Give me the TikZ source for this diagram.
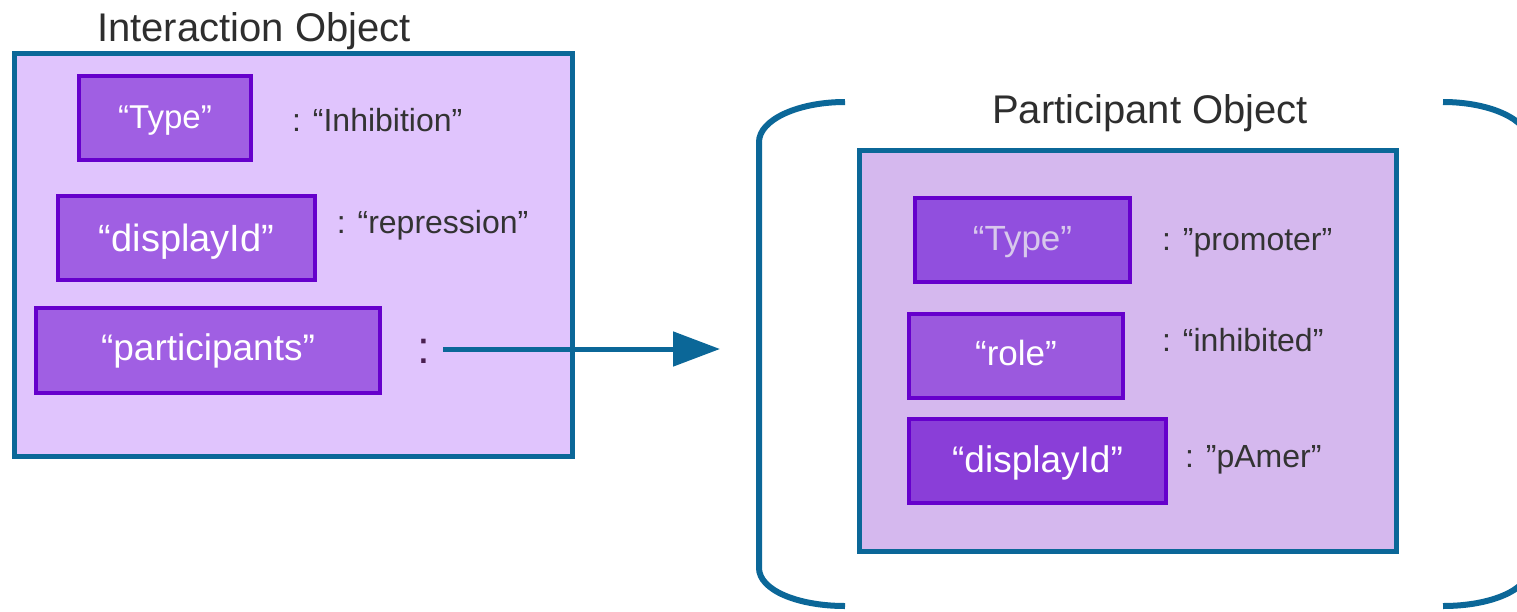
\documentclass[tikz,border=0pt]{standalone}
\usepackage{fontspec}
\setmainfont{Liberation Sans}
\usetikzlibrary{arrows.meta}
\definecolor{frame}{HTML}{0B6798}
\definecolor{leftfill}{HTML}{E0C4FD}
\definecolor{rightfill}{HTML}{D5B8EE}
\definecolor{keyfill}{HTML}{A05FE3}
\definecolor{keyline}{HTML}{6600CC}
\definecolor{typefill}{HTML}{914FDE}
\definecolor{rolefill}{HTML}{9B59DE}
\definecolor{idfill}{HTML}{8A3ED8}
\definecolor{labeltext}{HTML}{333333}
\definecolor{titlecol}{HTML}{2E2E2E}
\definecolor{graytext}{HTML}{D8C8EC}
\definecolor{colondots}{HTML}{4A2050}
\tikzset{
  objbox/.style={draw=frame, line width=5pt},
  keybox/.style={draw=keyline, line width=4pt, fill=keyfill, text=white,
    inner sep=0pt, outer sep=0pt, text depth=0pt},
  vallabel/.style={anchor=base west, inner sep=0pt, text=labeltext, font=\fontsize{32}{36}\selectfont},
  titletext/.style={anchor=base, inner sep=0pt, text=titlecol, font=\fontsize{40}{44}\selectfont},
  bracket/.style={draw=frame, line width=6pt},
}
\begin{document}
\begin{tikzpicture}[x=1pt,y=-1pt]
\useasboundingbox (0,0) rectangle (1517,611);
% left object
\node[titletext] (ltitle) at (254,41.7) {Interaction Object};
\path[objbox, fill=leftfill] (14,53) rectangle (572,456);
\node[keybox, minimum width=172pt, minimum height=84pt, text height=20pt,
  font=\fontsize{33}{36}\selectfont] (ltype) at (165,118) {“Type”};
\node[keybox, minimum width=257pt, minimum height=84pt, text height=28pt,
  font=\fontsize{38}{40}\selectfont] (ldisp) at (186.5,237.5) {“displayId”};
\node[keybox, minimum width=344pt, minimum height=85pt, text height=20pt,
  font=\fontsize{37}{40}\selectfont] (lpart) at (208,350) {“participants”};
\node[vallabel] (linh) at (292,131.7) {: “Inhibition”};
\node[vallabel] (lrep) at (336.7,233) {: “repression”};
\node[anchor=base, inner sep=0pt, text=colondots, font=\fontsize{46}{48}\selectfont] (lcolon) at (424,363) {:};
\coordinate (arrstart) at (443,349);
% right object
\draw[bracket] (845,102) .. controls (797.5,102) and (759,120) .. (759,142)
  -- (759,568) .. controls (759,590) and (797.5,606) .. (845,606);
\draw[bracket] (1443,102) .. controls (1490.5,102) and (1529,120) .. (1529,142)
  -- (1529,568) .. controls (1529,590) and (1490.5,606) .. (1443,606);
\node[titletext] (rtitle) at (1150,123.3) {Participant Object};
\path[objbox, fill=rightfill] (859,150.5) rectangle (1396,551);
\node[keybox, fill=typefill, text=graytext, minimum width=215pt, minimum height=84pt,
  text height=20pt, font=\fontsize{35}{38}\selectfont] (rtype) at (1022.5,240) {“Type”};
\node[keybox, fill=rolefill, minimum width=214pt, minimum height=84pt,
  text height=18pt, font=\fontsize{35}{38}\selectfont] (rrole) at (1016,356) {“role”};
\node[keybox, fill=idfill, minimum width=257pt, minimum height=84pt,
  text height=22pt, font=\fontsize{37}{40}\selectfont] (rdisp) at (1037.5,461) {“displayId”};
\node[vallabel] (rprom) at (1162,250) {: "promoter"};
\node[vallabel] (rinh) at (1162,351) {: “inhibited”};
\node[vallabel] (ramer) at (1185,467) {: "pAmer"};
\coordinate (arrend) at (720,349);
\draw[frame, line width=5pt, -{Triangle[length=47pt,width=34pt]}] (arrstart) -- (arrend);
\end{tikzpicture}
\end{document}
